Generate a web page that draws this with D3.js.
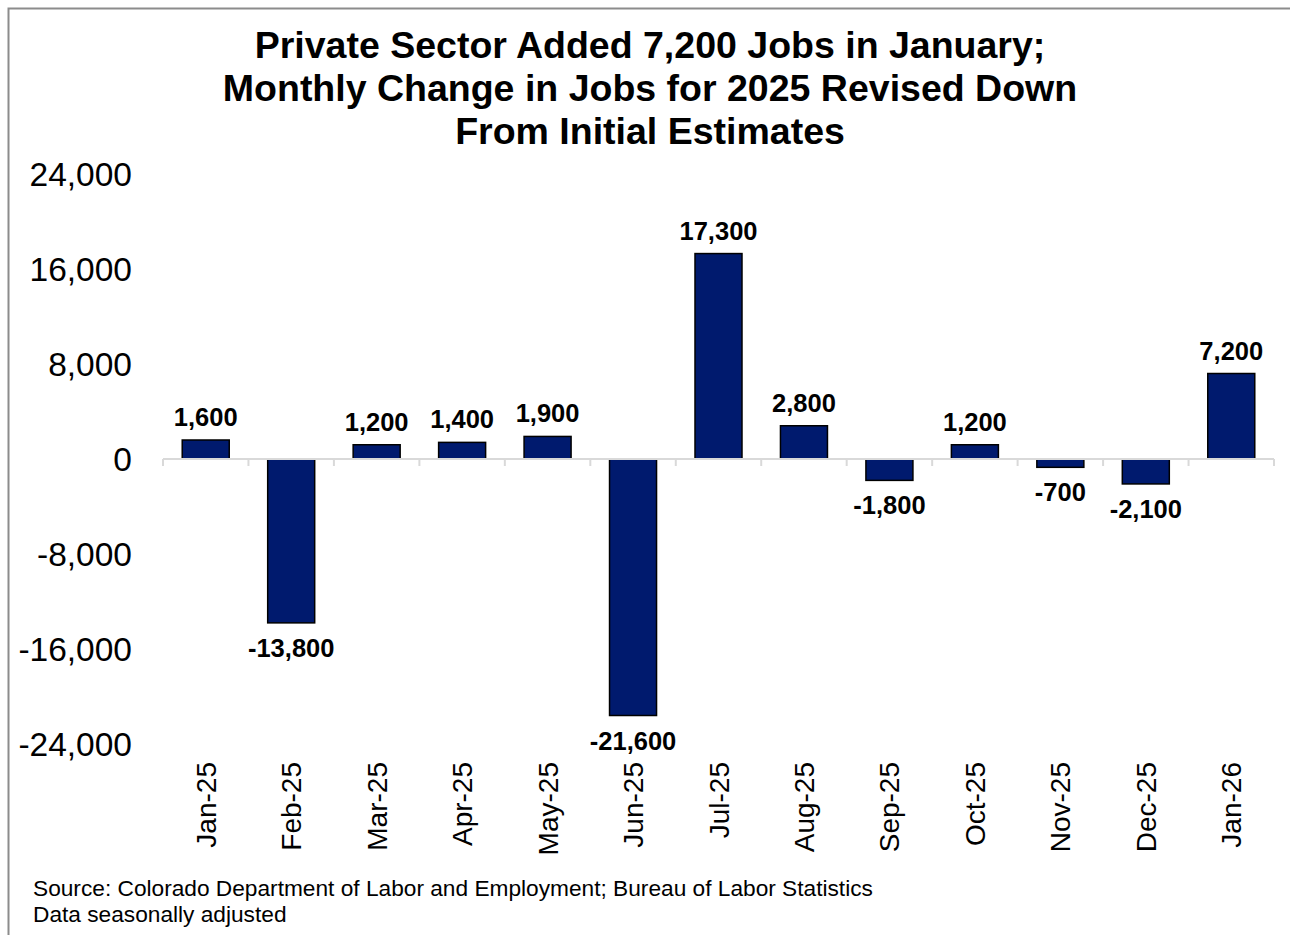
<!DOCTYPE html>
<html>
<head>
<meta charset="utf-8">
<script src="https://cdn.jsdelivr.net/npm/d3@7"></script>
<style>
  html, body { margin: 0; padding: 0; background: #fff; }
  svg { display: block; }
</style>
</head>
<body>
<svg id="chart" width="1290" height="935"></svg>
<script>
const categories = ["Jan-25","Feb-25","Mar-25","Apr-25","May-25","Jun-25","Jul-25","Aug-25","Sep-25","Oct-25","Nov-25","Dec-25","Jan-26"];
const values = [1600, -13800, 1200, 1400, 1900, -21600, 17300, 2800, -1800, 1200, -700, -2100, 7200];
const yTicks = [24000, 16000, 8000, 0, -8000, -16000, -24000];
const titleLines = ["Private Sector Added 7,200 Jobs in January;", "Monthly Change in Jobs for 2025 Revised Down", "From Initial Estimates"];
const sourceLines = ["Source: Colorado Department of Labor and Employment; Bureau of Labor Statistics", "Data seasonally adjusted"];

const svg = d3.select("#chart");
const font = "Liberation Sans, Arial, Helvetica, sans-serif";
const fmt = v => d3.format(",")(v).replace("\u2212", "-");

// frame
svg.append("path")
  .attr("d", "M8.5,935 L8.5,8.5 L1290,8.5")
  .attr("fill", "none").attr("stroke", "#8c8c8c").attr("stroke-width", 2);

// title
svg.append("g").selectAll("text").data(titleLines).join("text")
  .attr("x", 650).attr("y", (d, i) => 58 + i * 43)
  .attr("text-anchor", "middle")
  .attr("font-family", font).attr("font-weight", "bold").attr("font-size", 37.5)
  .attr("fill", "#000").text(d => d);

const x = d3.scaleBand().domain(categories).range([163, 1274]).paddingInner(0.45).paddingOuter(0.225);
const y = d3.scaleLinear().domain([-24000, 24000]).range([744, 174]);

// y axis labels
const yAxis = d3.axisLeft(y).tickValues(yTicks).tickSize(0).tickPadding(0).tickFormat(fmt);
const gy = svg.append("g").attr("transform", "translate(132,0)").call(yAxis);
gy.select(".domain").remove();
gy.selectAll("text").attr("font-family", font).attr("font-size", 33.5).attr("fill", "#000").attr("dy", "0.35em");

// bars
svg.append("g").selectAll("rect").data(values).join("rect")
  .attr("x", (d, i) => x(categories[i]))
  .attr("width", x.bandwidth())
  .attr("y", d => y(Math.max(0, d)))
  .attr("height", d => Math.abs(y(d) - y(0)))
  .attr("fill", "#001a6e").attr("stroke", "#000").attr("stroke-width", 1.5);

// x axis line with boundary ticks
const xAxisG = svg.append("g").attr("transform", `translate(0,${y(0)})`);
const bounds = d3.range(categories.length + 1).map(i => 163 + i * (1111 / categories.length));
xAxisG.append("line").attr("x1", 163).attr("x2", 1274).attr("y1", 0).attr("y2", 0)
  .attr("stroke", "#d9d9d9").attr("stroke-width", 2);
xAxisG.selectAll("line.tk").data(bounds).join("line").attr("class", "tk")
  .attr("x1", d => d).attr("x2", d => d).attr("y1", 0).attr("y2", 7)
  .attr("stroke", "#d9d9d9").attr("stroke-width", 2);

// x labels (rotated)
svg.append("g").selectAll("text").data(categories).join("text")
  .attr("transform", d => `translate(${x(d) + x.bandwidth() / 2 + 10},762) rotate(-90)`)
  .attr("text-anchor", "end")
  .attr("font-family", font).attr("font-size", 28).attr("fill", "#000")
  .text(d => d);

// data labels
svg.append("g").selectAll("text").data(values).join("text")
  .attr("x", (d, i) => x(categories[i]) + x.bandwidth() / 2)
  .attr("y", d => d >= 0 ? y(d) - 14 : y(d) + 34)
  .attr("text-anchor", "middle")
  .attr("font-family", font).attr("font-weight", "bold").attr("font-size", 25.5).attr("fill", "#000")
  .text(d => fmt(d));

// source
svg.append("g").selectAll("text").data(sourceLines).join("text")
  .attr("x", 33).attr("y", (d, i) => 896 + i * 26)
  .attr("font-family", font).attr("font-size", 22.7).attr("fill", "#000")
  .text(d => d);
</script>
</body>
</html>
